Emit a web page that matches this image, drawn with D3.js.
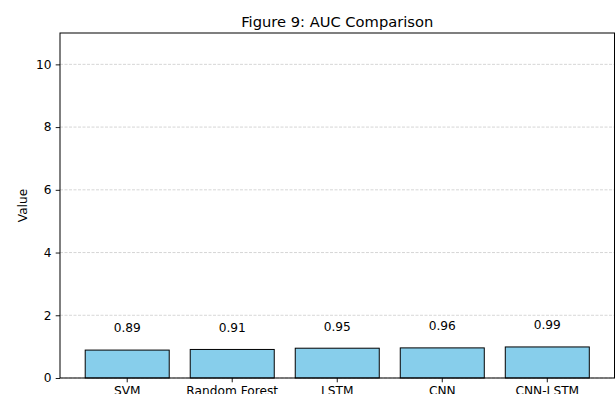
<!DOCTYPE html>
<html>
<head>
<meta charset="UTF-8">
<script src="https://d3js.org/d3.v7.min.js"></script>
<style>
  body { margin: 0; background: #fff; }
  text { font-family: "DejaVu Sans", sans-serif; fill: #000; }
</style>
</head>
<body>
<script>
// chart data
const models = ["SVM", "Random Forest", "LSTM", "CNN", "CNN-LSTM"];
const auc = [0.89, 0.91, 0.95, 0.96, 0.99];
const yTicks = [0, 2, 4, 6, 8, 10];

const W = 616, H = 394;
const margin = {top: 33, right: 1.5, bottom: 16, left: 60};
const width = W - margin.left - margin.right;
const height = H - margin.top - margin.bottom;

const svg = d3.select("body").append("svg")
  .attr("width", W)
  .attr("height", H);

const g = svg.append("g")
  .attr("transform", "translate(" + margin.left + "," + margin.top + ")");

// scales
const x = d3.scaleBand()
  .domain(models)
  .range([0, width])
  .paddingInner(0.2)
  .paddingOuter(0.24);

const y = d3.scaleLinear()
  .domain([0, 11])
  .range([height, 0]);

// grid lines
g.append("g")
  .selectAll("line")
  .data(yTicks)
  .enter().append("line")
    .attr("x1", 0)
    .attr("x2", width)
    .attr("y1", d => y(d))
    .attr("y2", d => y(d))
    .attr("stroke", "#c4c4c4")
    .attr("stroke-width", 0.7)
    .attr("stroke-dasharray", "3,1.5");

// bars
const data = models.map((m, i) => ({model: m, value: auc[i]}));
g.selectAll("rect.bar")
  .data(data)
  .enter().append("rect")
    .attr("class", "bar")
    .attr("x", d => x(d.model))
    .attr("y", d => y(d.value))
    .attr("width", x.bandwidth())
    .attr("height", d => height - y(d.value))
    .attr("fill", "#87ceeb")
    .attr("stroke", "#000")
    .attr("stroke-width", 1);

// value labels (placed 0.5 above bar)
g.selectAll("text.val")
  .data(data)
  .enter().append("text")
    .attr("class", "val")
    .attr("x", d => x(d.model) + x.bandwidth() / 2)
    .attr("y", d => y(d.value + 0.5) - 2)
    .attr("text-anchor", "middle")
    .style("font-size", "12.2px")
    .text(d => d3.format(".2f")(d.value));

// axes
const xAxis = g.append("g")
  .attr("transform", "translate(0," + height + ")")
  .call(d3.axisBottom(x).tickSize(4.3).tickPadding(4.3));
const yAxis = g.append("g")
  .call(d3.axisLeft(y).tickValues(yTicks).tickSize(4.3).tickPadding(4.3));

[xAxis, yAxis].forEach(a => {
  a.select(".domain").remove();
  a.selectAll(".tick line").attr("stroke", "#000").attr("stroke-width", 0.9);
  a.selectAll(".tick text").style("font-size", "12.2px").attr("fill", "#000");
});

// frame
g.append("rect")
  .attr("x", 0).attr("y", 0)
  .attr("width", width).attr("height", height)
  .attr("fill", "none")
  .attr("stroke", "#000")
  .attr("stroke-width", 1);

// title and y label
svg.append("text")
  .attr("x", margin.left + width / 2)
  .attr("y", 27)
  .attr("text-anchor", "middle")
  .style("font-size", "14.7px")
  .text("Figure 9: AUC Comparison");

svg.append("text")
  .attr("transform", "translate(27," + (margin.top + height / 2) + ") rotate(-90)")
  .attr("text-anchor", "middle")
  .style("font-size", "12.2px")
  .text("Value");
</script>
</body>
</html>
